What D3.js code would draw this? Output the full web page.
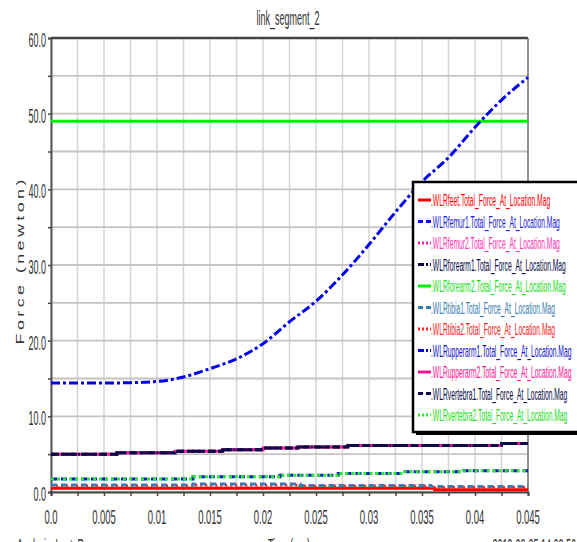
<!DOCTYPE html>
<html>
<head>
<meta charset="utf-8">
<script src="https://cdn.jsdelivr.net/npm/d3@7"></script>
<style>
  body { margin: 0; background: #fff; overflow: hidden; }
  text { font-family: "Liberation Sans", Arial, sans-serif; }
</style>
</head>
<body>
<div id="chart"></div>
<script>
// ---- data ----
var xTicks = [0, 0.005, 0.01, 0.015, 0.02, 0.025, 0.03, 0.035, 0.04, 0.045];
var xTickLabels = ["0.0", "0.005", "0.01", "0.015", "0.02", "0.025", "0.03", "0.035", "0.04", "0.045"];
var yTicks = [0, 10, 20, 30, 40, 50, 60];
var yTickLabels = ["0.0", "10.0", "20.0", "30.0", "40.0", "50.0", "60.0"];

// upperarm1 (the rising curve)
var curveT = [0, 0.0025, 0.005, 0.0075, 0.01, 0.0125, 0.015, 0.0175, 0.02, 0.0225, 0.025, 0.0275, 0.03, 0.0325, 0.035, 0.0375, 0.04, 0.0425, 0.045];
var upperarm1V = [14.4, 14.4, 14.4, 14.45, 14.6, 15.2, 16.3, 17.6, 19.6, 22.5, 25.2, 28.7, 32.7, 37.0, 41.0, 44.2, 48.2, 51.8, 54.8];

// step-like series (value holds from each time to the next)
var forearm2T = [0, 0.045];
var forearm2V = [49.0, 49.0];
var armT = [0, 0.0062, 0.0117, 0.0162, 0.0200, 0.0233, 0.0280, 0.0425, 0.045];
var armV = [5.0, 5.2, 5.4, 5.6, 5.8, 5.95, 6.15, 6.4, 6.4];
var vert2T = [0, 0.0134, 0.0216, 0.0271, 0.0334, 0.0389, 0.045];
var vert2V = [1.72, 2.0, 2.2, 2.45, 2.68, 2.82, 2.82];
var tibiaT = [0, 0.0134, 0.0235, 0.0358, 0.045];
var tibia1V = [0.93, 1.06, 0.86, 0.72, 0.72];
var tibia2V = [0.8, 0.9, 0.75, 0.6, 0.6];
var feetT = [0, 0.0362, 0.045];
var feetV = [0.5, 0.3, 0.3];

var names = ["feet", "femur1", "femur2", "forearm1", "forearm2", "tibia1", "tibia2", "upperarm1", "upperarm2", "vertebra1", "vertebra2"];

// drawing order: the ones listed later sit on top
var series = [
  { name: "upperarm2", color: "#ff1493", text: "#ff1493", dash: null,      legDash: null,      t: armT,      v: armV,       step: true },
  { name: "femur2",    color: "#ff22aa", text: "#ff33b0", dash: "2,3",     legDash: "2,2",     t: armT,      v: armV,       step: true },
  { name: "forearm1",  color: "#0a0a4a", text: "#0a0a4a", dash: "8,3,2,3", legDash: "6,2,2,2", t: armT,      v: armV,       step: true },
  { name: "vertebra1", color: "#0a0a4a", text: "#0a0a4a", dash: "6,4",     legDash: "5,3",     t: armT,      v: armV,       step: true },
  { name: "femur1",    color: "#1010e0", text: "#1a1ad8", dash: "6,4",     legDash: "5,3",     t: vert2T,    v: vert2V,     step: true },
  { name: "vertebra2", color: "#22ee22", text: "#22dd22", dash: "3,3",     legDash: "2,2",     t: vert2T,    v: vert2V,     step: true },
  { name: "feet",      color: "#ff0000", text: "#ff0000", dash: null,      legDash: null,      t: feetT,     v: feetV,      step: true },
  { name: "tibia2",    color: "#ff2020", text: "#ff2020", dash: "2,3",     legDash: "2,2",     t: tibiaT,    v: tibia2V,    step: true },
  { name: "tibia1",    color: "#3a7db0", text: "#3a7db0", dash: "6,4",     legDash: "5,3",     t: tibiaT,    v: tibia1V,    step: true },
  { name: "forearm2",  color: "#00ee00", text: "#22dd22", dash: null,      legDash: null,      t: forearm2T, v: forearm2V,  step: true },
  { name: "upperarm1", color: "#0000ee", text: "#1010d0", dash: "9,3,3,3", legDash: "6,2,2,2", t: curveT,    v: upperarm1V, step: false }
];

var W = 577, H = 542;
var margin = { top: 38, right: 49, bottom: 50, left: 51 };
var K = 0.45; // the picture's text is squeezed sideways

function squeeze(sel, k) {
  sel.each(function () {
    var w = this.getComputedTextLength();
    d3.select(this).attr("textLength", w * (k || K)).attr("lengthAdjust", "spacingAndGlyphs");
  });
}

var svg = d3.select("#chart").append("svg")
  .attr("width", W)
  .attr("height", H);

var x = d3.scaleLinear().domain([0, 0.045]).range([margin.left, W - margin.right]);
var y = d3.scaleLinear().domain([0, 60]).range([H - margin.bottom, margin.top]);

// grid
var xMinor = d3.range(0, 0.0451, 0.0025);
var yMinor = d3.range(0, 60.1, 5);

svg.append("g")
  .selectAll("line")
  .data(xMinor)
  .enter().append("line")
  .attr("x1", function (d) { return x(d); })
  .attr("x2", function (d) { return x(d); })
  .attr("y1", y(0)).attr("y2", y(60))
  .attr("stroke", "#d4d4d4").attr("stroke-width", 1.5);

svg.append("g")
  .selectAll("line")
  .data(yMinor)
  .enter().append("line")
  .attr("x1", x(0)).attr("x2", x(0.045))
  .attr("y1", function (d) { return y(d); })
  .attr("y2", function (d) { return y(d); })
  .attr("stroke", "#c4c4c4").attr("stroke-width", 1.8);

// axes
var yAxis = d3.axisLeft(y).tickValues(yMinor).tickSize(3).tickFormat("");
var gy = svg.append("g").attr("transform", "translate(" + margin.left + ",0)").call(yAxis);
gy.select(".domain").attr("stroke", "#555").attr("stroke-width", 2);
gy.selectAll(".tick line").attr("stroke", "#444").attr("stroke-width", 1.5);

var xAxis = d3.axisBottom(x).tickValues(xMinor).tickSize(4).tickFormat("");
var gx = svg.append("g").attr("transform", "translate(0," + (H - margin.bottom) + ")").call(xAxis);
gx.select(".domain").attr("stroke", "#444").attr("stroke-width", 2);
gx.selectAll(".tick line").attr("stroke", "#444").attr("stroke-width", 1.5);

// top and right frame
svg.append("line").attr("x1", x(0)).attr("x2", x(0.045)).attr("y1", y(60)).attr("y2", y(60))
  .attr("stroke", "#444").attr("stroke-width", 2.5);
svg.append("line").attr("x1", x(0.045)).attr("x2", x(0.045)).attr("y1", y(60)).attr("y2", y(0))
  .attr("stroke", "#777").attr("stroke-width", 1.5);

// tick labels
svg.append("g").selectAll("text")
  .data(yTicks)
  .enter().append("text")
  .attr("x", margin.left - 5)
  .attr("y", function (d) { return y(d) + 9; })
  .attr("text-anchor", "end")
  .attr("font-size", 20)
  .attr("fill", "#333")
  .text(function (d, i) { return yTickLabels[i]; })
  .call(squeeze);

svg.append("g").selectAll("text")
  .data(xTicks)
  .enter().append("text")
  .attr("x", function (d) { return x(d); })
  .attr("y", H - margin.bottom + 32)
  .attr("text-anchor", "middle")
  .attr("font-size", 21)
  .attr("fill", "#333")
  .text(function (d, i) { return xTickLabels[i]; })
  .call(squeeze);

// title
svg.append("text")
  .attr("x", 288).attr("y", 25)
  .attr("text-anchor", "middle")
  .attr("font-size", 20)
  .attr("fill", "#333")
  .text("link_segment_2")
  .call(squeeze);

// y label (rotated, glyph height squeezed)
svg.append("text")
  .attr("transform", "translate(24,262) rotate(-90) scale(1,0.6)")
  .attr("text-anchor", "middle")
  .attr("font-size", 18)
  .attr("fill", "#333")
  .attr("textLength", 165)
  .attr("lengthAdjust", "spacing")
  .text("Force (newton)");

// footer, cut off by the bottom edge as in the picture
svg.append("text").attr("x", 17).attr("y", 553).attr("font-size", 20).attr("fill", "#333")
  .text("Analysis:  Last_Run").call(squeeze);
svg.append("text").attr("x", 289).attr("y", 553).attr("text-anchor", "middle").attr("font-size", 20).attr("fill", "#333")
  .text("Time (sec)").call(squeeze);
svg.append("text").attr("x", 576).attr("y", 553).attr("text-anchor", "end").attr("font-size", 20).attr("fill", "#333")
  .text("2019-08-05 14:00:56").call(squeeze);

// lines
svg.append("clipPath").attr("id", "plotclip").append("rect")
  .attr("x", x(0)).attr("y", y(60) - 2).attr("width", x(0.045) - x(0) + 2).attr("height", y(0) - y(60) + 2);

var plot = svg.append("g").attr("clip-path", "url(#plotclip)");

series.forEach(function (s) {
  var pts = s.t.map(function (t, i) { return [t, s.v[i]]; });
  var line = d3.line()
    .x(function (d) { return x(d[0]); })
    .y(function (d) { return y(d[1]); })
    .curve(s.step ? d3.curveStepAfter : d3.curveMonotoneX);
  plot.append("path")
    .datum(pts)
    .attr("d", line)
    .attr("fill", "none")
    .attr("stroke", s.color)
    .attr("stroke-width", 3)
    .attr("stroke-dasharray", s.dash);
});

// legend
var lx = 413, ly = 182, lh = 250, rowH = 21.5;
svg.append("rect").attr("x", lx + 3).attr("y", ly + 3).attr("width", 200).attr("height", lh)
  .attr("fill", "#000");
svg.append("rect").attr("x", lx).attr("y", ly).attr("width", 200).attr("height", lh)
  .attr("fill", "#fff").attr("stroke", "#000").attr("stroke-width", 2.5);

var byName = {};
series.forEach(function (s) { byName[s.name] = s; });

var leg = svg.append("g").selectAll("g")
  .data(names)
  .enter().append("g")
  .attr("transform", function (d, i) { return "translate(0," + (ly + 18 + i * rowH) + ")"; });

leg.append("line")
  .attr("x1", lx + 5).attr("x2", lx + 18)
  .attr("stroke", function (d) { return byName[d].color; })
  .attr("stroke-width", 3)
  .attr("stroke-dasharray", function (d) { return byName[d].legDash; });

leg.append("text")
  .attr("x", lx + 18)
  .attr("y", 6)
  .attr("font-size", 16)
  .attr("fill", function (d) { return byName[d].text; })
  .text(function (d) { return ".WLR" + d + ".Total_Force_At_Location.Mag"; })
  .call(squeeze, 0.42);
</script>
</body>
</html>
